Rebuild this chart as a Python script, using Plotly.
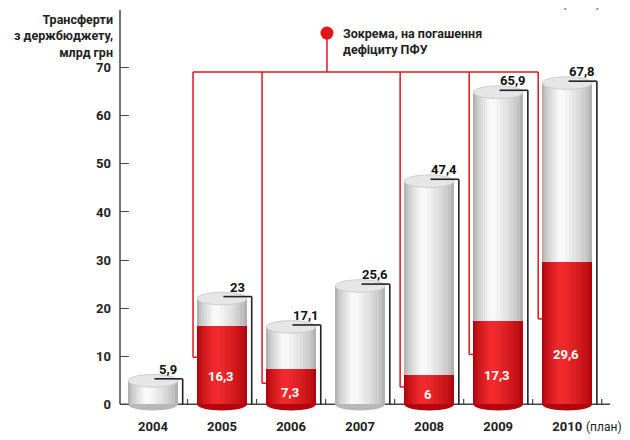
import plotly.graph_objects as go

years = ["2004", "2005", "2006", "2007", "2008", "2009", "2010"]
totals = [5.9, 23, 17.1, 25.6, 47.4, 65.9, 67.8]
deficit = [None, 16.3, 7.3, None, 6, 17.3, 29.6]
y_ticks = [0, 10, 20, 30, 40, 50, 60, 70]


def fmt(v):
    return ("%g" % v).replace(".", ",")


def mix(c1, c2, t):
    a = [int(c1[i:i + 2], 16) for i in (1, 3, 5)]
    b = [int(c2[i:i + 2], 16) for i in (1, 3, 5)]
    return "rgb(%d,%d,%d)" % tuple(round(a[j] + (b[j] - a[j]) * t) for j in range(3))


x = list(range(len(years)))
FONT = "Roboto"
RED = "#e2141c"
HALF = 0.36
N = 9

fig = go.Figure()


def layers(edge, hi):
    out = []
    for k in range(N):
        f = k / N
        w = 2 * HALF * (1 - f) ** 0.9
        c = -0.09 * f
        out.append((w, c - w / 2, mix(edge, hi, (k / (N - 1)) ** 0.7)))
    return out


for w, off, col in layers("#b2b2b2", "#f8f8f8"):
    fig.add_trace(go.Bar(x=x, y=[t - 1.0 for t in totals], width=w, offset=off,
                         marker=dict(color=col, line=dict(width=0)),
                         hoverinfo="skip", showlegend=False))
for w, off, col in layers("#b0060e", "#f02a2c"):
    fig.add_trace(go.Bar(x=x, y=deficit, width=w, offset=off,
                         marker=dict(color=col, line=dict(width=0)),
                         hoverinfo="skip", showlegend=False))

shapes = []
for i, t in enumerate(totals):
    col = "#b3060d" if deficit[i] else "#b8b8b8"
    shapes.append(dict(type="circle", xref="x", yref="y", layer="below",
                       x0=i - HALF, x1=i + HALF, y0=-1.3, y1=1.3,
                       fillcolor=col, line=dict(width=0)))
shapes.append(dict(type="line", xref="paper", yref="y", layer="below",
                   x0=0, x1=1, y0=0, y1=0, line=dict(color="#444", width=1.5)))
shapes.append(dict(type="line", xref="paper", yref="paper", layer="above",
                   x0=0, x1=0, y0=1.6 / 83.6, y1=1, line=dict(color="#444", width=1.5)))
for i in range(len(years)):
    shapes.append(dict(type="line", xref="x", yref="y", layer="below",
                       x0=i + 0.5, x1=i + 0.5, y0=0, y1=1.1,
                       line=dict(color="#444", width=1.2)))
for i, t in enumerate(totals):
    shapes.append(dict(type="circle", xref="x", yref="y", layer="above",
                       x0=i - HALF, x1=i + HALF, y0=t - 2.3, y1=t + 0.3,
                       fillcolor="#e6e6e6", line=dict(color="#cdcdcd", width=1)))
for i, t in enumerate(totals):
    shapes.append(dict(type="line", xref="x", yref="y", layer="above",
                       x0=i + 0.02, x1=i + 0.43, y0=t - 0.6, y1=t - 0.6,
                       line=dict(color="#222", width=1.6)))
    shapes.append(dict(type="line", xref="x", yref="y", layer="above",
                       x0=i + 0.43, x1=i + 0.43, y0=t - 0.6, y1=0,
                       line=dict(color="#222", width=1.6)))
red_level = 69.1
red_idx = [i for i, d in enumerate(deficit) if d]
shapes.append(dict(type="line", xref="x", yref="y", layer="above",
                   x0=red_idx[0] - 0.42, x1=red_idx[-1] - 0.42,
                   y0=red_level, y1=red_level, line=dict(color=RED, width=1.5)))
for i in red_idx:
    yl = deficit[i] * 0.6
    shapes.append(dict(type="line", xref="x", yref="y", layer="above",
                       x0=i - 0.42, x1=i - 0.42, y0=red_level, y1=yl,
                       line=dict(color=RED, width=1.5)))
    shapes.append(dict(type="line", xref="x", yref="y", layer="above",
                       x0=i - 0.42, x1=i - HALF, y0=yl, y1=yl,
                       line=dict(color=RED, width=1.5)))
legend_x = 2.52
legend_y = 77.2
shapes.append(dict(type="line", xref="x", yref="y", layer="above",
                   x0=legend_x, x1=legend_x, y0=legend_y, y1=red_level,
                   line=dict(color=RED, width=1.5)))

fig.add_trace(go.Scatter(x=[legend_x], y=[legend_y], mode="markers",
                         marker=dict(color=RED, size=13), cliponaxis=False,
                         hoverinfo="skip", showlegend=False))

annotations = []
for i, t in enumerate(totals):
    annotations.append(dict(x=i + 0.22, y=t - 0.6, xref="x", yref="y",
                            text="<b>%s</b>" % fmt(t), showarrow=False,
                            yanchor="bottom",
                            font=dict(family=FONT, size=13, color="#111")))
for i in red_idx:
    annotations.append(dict(x=i - 0.02, y=deficit[i] * 0.35, xref="x", yref="y",
                            text="<b>%s</b>" % fmt(deficit[i]), showarrow=False,
                            font=dict(family=FONT, size=13, color="white")))
annotations.append(dict(x=legend_x + 0.2, y=legend_y - 1.8, xref="x", yref="y",
                        xanchor="left", yanchor="middle", align="left",
                        text="<b>Зокрема, на погашення<br>дефіциту ПФУ</b>",
                        showarrow=False,
                        font=dict(family=FONT, size=12.5, color="#222")))
annotations.append(dict(x=-0.01, y=1.0, xref="paper", yref="paper",
                        xanchor="right", yanchor="top", align="right",
                        text="<b>Трансферти<br>з держбюджету,<br>млрд грн</b>",
                        showarrow=False,
                        font=dict(family=FONT, size=12.5, color="#222")))
annotations.append(dict(x=6.24, y=-0.037, xref="x", yref="paper",
                        xanchor="left", yanchor="middle",
                        text="(план)", showarrow=False,
                        font=dict(family=FONT, size=12, color="#222")))
annotations.append(dict(x=0.985, y=1.0, xref="paper", yref="paper",
                        xanchor="right", yanchor="bottom", yshift=-2,
                        text="(план)", showarrow=False,
                        font=dict(family=FONT, size=13, color="#222")))

fig.update_layout(
    width=622, height=432,
    margin=dict(l=112, r=20, t=2, b=28),
    paper_bgcolor="white", plot_bgcolor="white",
    barmode="overlay", bargap=0,
    shapes=shapes, annotations=annotations,
    xaxis=dict(range=[-0.478, 6.62], tickvals=x, ticktext=["<b>%s</b>" % y for y in years],
               showgrid=False, zeroline=False, showline=False, ticks="",
               ticklabelstandoff=5,
               tickfont=dict(family=FONT, size=13, color="#222")),
    yaxis=dict(range=[-1.6, 82], tickvals=y_ticks,
               ticktext=["<b>%d</b>" % v for v in y_ticks],
               showgrid=False, zeroline=False, showline=False,
               ticks="inside", ticklen=9, tickwidth=1.3, tickcolor="#444",
               ticklabelstandoff=8,
               tickfont=dict(family=FONT, size=13, color="#222")),
)

fig.write_html("out.html")
